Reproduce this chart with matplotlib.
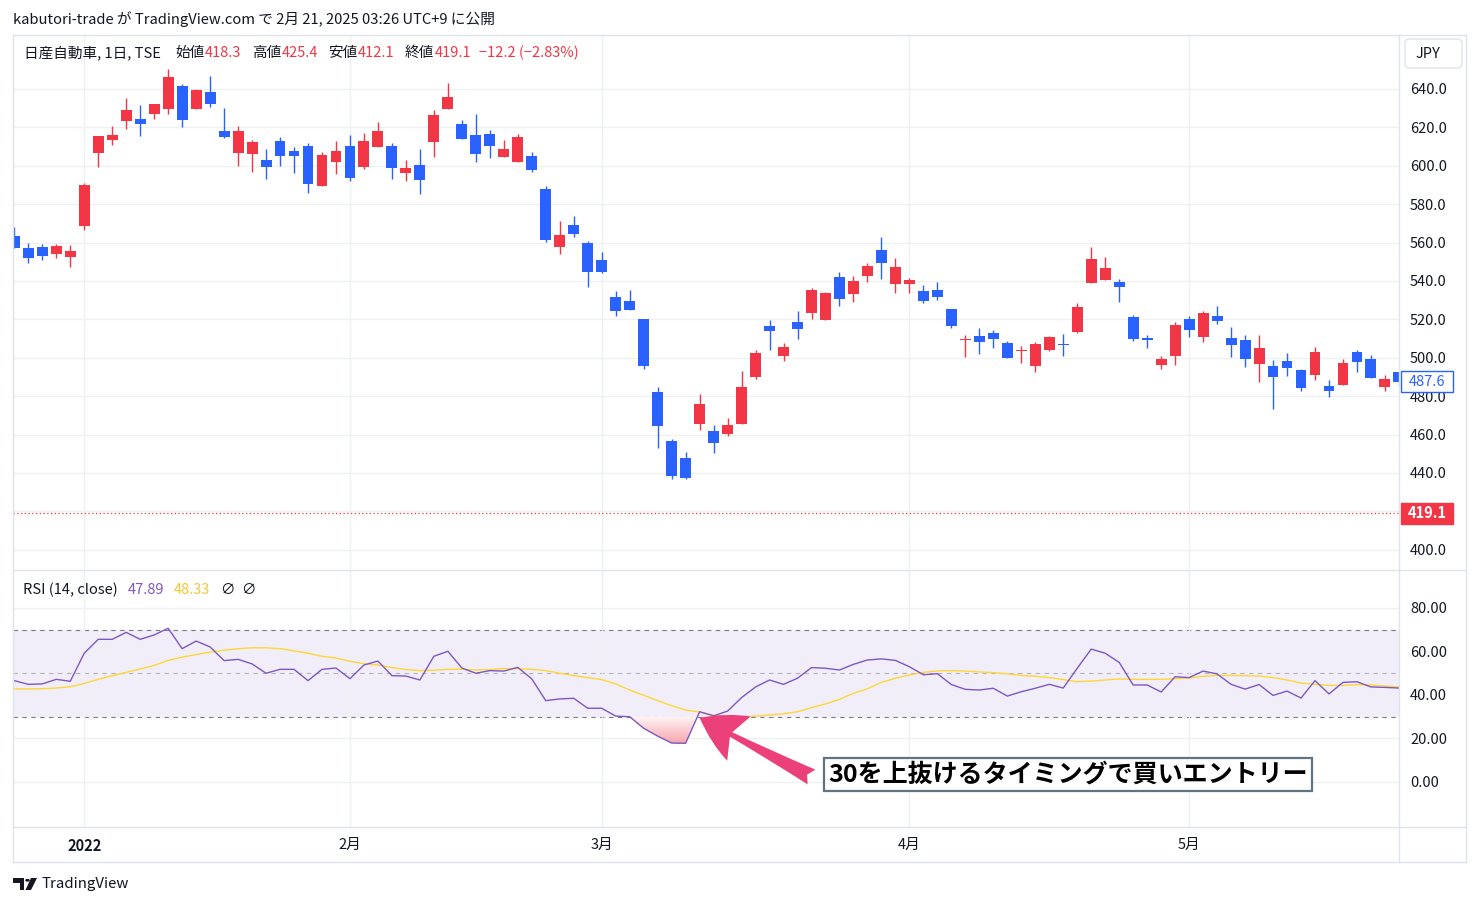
import numpy as np
import matplotlib
matplotlib.use("Agg")
import matplotlib.pyplot as plt
import matplotlib.transforms as mtransforms
from matplotlib.patches import Rectangle, FancyBboxPatch, Polygon, Circle
from matplotlib.lines import Line2D
from matplotlib.colors import LinearSegmentedColormap

plt.rcParams["font.family"] = ["Noto Sans CJK JP", "DejaVu Sans"]

W, H = 1479, 906

# daily bars, 2021-12-24 .. 2022-05-26 (index = trading day)
opens = [563.5, 557.2, 557.7, 554.2, 552.7, 568.8, 606.8, 613.6, 623.5, 624.4,
         627.1, 629.8, 641.6, 629.8, 638.4, 618.1, 606.8, 606.3, 603.0, 612.9,
         607.7, 610.3, 589.6, 602.1, 610.3, 599.5, 610.0, 610.3, 596.4, 600.4,
         612.6, 629.8, 621.8, 616.0, 616.6, 604.8, 602.1, 605.1, 587.9, 557.9,
         569.2, 559.8, 550.9, 531.8, 529.7, 520.0, 482.3, 456.8, 448.0, 465.7,
         462.0, 460.5, 465.3, 490.2, 516.7, 501.1, 518.8, 523.1, 519.8, 542.1,
         533.0, 542.6, 556.1, 538.2, 538.2, 534.9, 535.5, 525.6, 509.0, 511.5,
         513.1, 507.9, 503.5, 495.7, 503.9, 507.1, 513.4, 538.9, 540.5, 539.3,
         521.1, 510.3, 496.2, 500.9, 520.0, 510.8, 521.6, 510.1, 509.1, 496.8,
         495.6, 498.2, 493.5, 491.0, 485.1, 485.8, 502.8, 499.2, 484.8, 492.4]
highs = [568.1, 559.8, 559.3, 559.3, 558.8, 590.9, 615.5, 620.7, 635.3, 631.7,
         632.2, 650.4, 642.6, 640.0, 646.8, 629.9, 620.7, 613.4, 608.7, 615.0,
         609.8, 611.9, 607.2, 612.9, 616.0, 617.1, 622.8, 611.9, 603.0, 608.7,
         629.1, 643.1, 623.9, 627.0, 618.6, 613.4, 616.6, 607.2, 589.5, 571.2,
         573.9, 560.8, 555.1, 534.6, 535.5, 520.4, 484.6, 457.9, 451.1, 481.3,
         465.2, 468.8, 493.3, 504.2, 519.8, 507.9, 524.5, 536.5, 534.5, 544.7,
         542.6, 549.4, 563.0, 552.0, 541.5, 538.1, 539.6, 525.6, 512.0, 515.7,
         514.6, 508.9, 506.0, 508.0, 511.5, 512.2, 528.4, 557.5, 552.3, 540.9,
         522.1, 511.7, 500.9, 518.5, 521.6, 524.4, 526.8, 515.9, 511.7, 511.7,
         498.7, 502.3, 494.0, 505.4, 488.3, 499.2, 503.9, 501.3, 490.9, 492.5]
lows = [557.4, 549.6, 551.1, 552.2, 547.5, 566.7, 599.5, 610.8, 619.2, 615.5,
        624.4, 627.1, 620.4, 629.8, 630.8, 614.6, 600.1, 596.9, 593.3, 600.1,
        596.4, 586.0, 589.6, 595.9, 592.3, 598.5, 610.0, 593.3, 592.3, 585.5,
        604.8, 629.8, 614.1, 602.1, 604.2, 604.8, 602.1, 596.9, 560.5, 554.2,
        563.1, 537.0, 544.3, 521.9, 525.1, 494.3, 453.2, 437.0, 437.0, 462.5,
        450.6, 459.4, 465.3, 489.1, 504.2, 498.5, 509.9, 520.4, 519.5, 526.8,
        528.9, 539.5, 540.9, 533.9, 533.9, 528.7, 530.3, 515.7, 500.6, 502.1,
        505.3, 499.9, 497.1, 492.6, 503.4, 500.8, 512.9, 538.9, 540.5, 529.1,
        508.7, 505.1, 494.2, 496.2, 510.6, 508.2, 517.6, 500.4, 495.2, 487.2,
        473.3, 490.5, 482.7, 488.4, 479.6, 485.8, 492.6, 489.5, 482.5, 486.0]
closes = [557.4, 552.2, 553.2, 558.2, 555.6, 590.0, 615.5, 616.0, 629.1, 621.9,
          632.2, 646.2, 624.0, 639.5, 632.4, 615.2, 618.1, 612.4, 599.5, 605.3,
          605.3, 590.7, 605.6, 607.7, 593.8, 612.9, 618.1, 599.0, 599.0, 592.8,
          626.5, 635.8, 614.1, 606.3, 610.5, 608.7, 615.0, 598.0, 561.5, 564.0,
          564.6, 544.9, 544.9, 524.5, 525.1, 495.9, 464.3, 438.6, 437.6, 476.1,
          455.4, 465.2, 484.9, 502.7, 513.8, 505.8, 515.2, 535.5, 533.9, 530.4,
          540.0, 547.8, 549.4, 547.3, 540.5, 529.7, 531.8, 516.7, 509.5, 508.4,
          509.9, 500.1, 503.9, 507.0, 510.7, 506.5, 526.3, 551.3, 546.6, 536.9,
          509.8, 509.4, 499.2, 516.9, 514.5, 523.2, 519.2, 506.7, 499.4, 504.9,
          490.0, 494.7, 484.3, 502.8, 482.7, 497.1, 497.8, 489.5, 488.8, 487.6]

rsi = [46.6, 44.9, 45.1, 47.2, 46.3, 59.2, 65.6, 65.6, 68.8, 65.6,
       67.6, 70.7, 61.3, 64.8, 62.1, 55.8, 56.4, 54.3, 50.0, 51.8,
       51.8, 46.6, 51.8, 52.4, 47.5, 53.8, 55.6, 48.9, 48.7, 46.9,
       57.8, 60.1, 52.4, 50.0, 51.2, 51.0, 52.7, 47.4, 37.4, 38.2,
       38.5, 33.9, 33.9, 30.3, 30.0, 24.7, 21.1, 17.9, 17.8, 32.3,
       30.4, 32.6, 38.8, 43.7, 46.9, 44.9, 47.7, 52.6, 52.3, 51.5,
       54.1, 56.1, 56.6, 55.9, 53.0, 49.3, 49.8, 44.8, 42.6, 42.3,
       43.1, 39.5, 41.5, 43.1, 44.9, 43.2, 52.3, 61.1, 59.2, 55.0,
       44.6, 44.6, 41.4, 48.4, 48.0, 51.0, 49.7, 44.9, 42.7, 44.8,
       39.8, 41.8, 38.6, 46.6, 40.5, 45.8, 46.1, 43.7, 43.5, 43.2]
rsi_ma = [42.8, 42.8, 42.9, 43.2, 43.8, 45.3, 47.2, 48.9, 50.4, 52.0,
          53.6, 55.9, 57.4, 58.6, 59.7, 60.6, 61.3, 61.7, 61.7, 61.3,
          60.3, 59.2, 57.8, 57.0, 55.5, 54.4, 53.8, 52.6, 51.7, 51.2,
          51.4, 51.8, 51.8, 51.5, 51.7, 52.2, 52.1, 51.8, 51.2, 50.0,
          48.9, 48.0, 47.1, 45.1, 42.3, 39.9, 37.4, 35.1, 33.1, 32.2,
          30.7, 29.9, 29.9, 30.3, 30.8, 31.4, 32.3, 34.2, 35.9, 38.0,
          40.8, 42.9, 45.8, 47.7, 49.2, 50.4, 51.1, 51.2, 51.0, 50.6,
          50.3, 49.7, 49.0, 48.6, 48.0, 47.1, 46.1, 46.4, 46.9, 47.4,
          47.2, 47.2, 47.2, 47.5, 47.8, 48.6, 49.0, 49.0, 48.9, 48.7,
          48.0, 46.9, 45.5, 44.9, 44.4, 44.4, 44.8, 44.6, 44.1, 43.7]

month_pos = [5, 24, 42, 64, 84]
month_labels = ["2022", "2月", "3月", "4月", "5月"]
price_ticks = list(range(400, 641, 20))
rsi_ticks = [0, 20, 40, 60, 80]
last_close = 419.1
last_bar = 487.6

UP = "#F23645"
DOWN = "#2962FF"
TXT = "#131722"
GRID = "#EEF0F4"
FRAME = "#E0E3EB"
PURPLE = "#7E57C2"
YELLOW = "#FDD835"


def fx(px):
    return px / W


def fy(py):
    return 1 - py / H


fig = plt.figure(figsize=(W / 100, H / 100), dpi=100)
fig.patch.set_facecolor("white")

ax = fig.add_axes([fx(13), fy(569), fx(1398.5) - fx(13), fy(35) - fy(569)])
ax2 = fig.add_axes([fx(13), fy(827), fx(1398.5) - fx(13), fy(570) - fy(827)])

x = np.arange(len(closes))
o = np.array(opens)
c = np.array(closes)
colors = [UP if cc >= oo else DOWN for oo, cc in zip(o, c)]

# ---- price pane
heights = np.maximum(np.abs(c - o), 0.6)
ax.bar(x, heights, bottom=np.minimum(o, c), width=0.78, color=colors, linewidth=0, zorder=3)
ax.vlines(x, lows, highs, colors=colors, linewidth=1.0, zorder=2)
ax.axhline(last_close, color=UP, linestyle=(0, (1, 2)), linewidth=0.9, zorder=2)

ax.set_xlim(-0.093, 98.97)
ax.set_ylim(390.0, 668.1)
ax.set_yticks(price_ticks)
ax.set_yticklabels([f"{v:.1f}" for v in price_ticks])
ax.yaxis.tick_right()
ax.tick_params(axis="y", length=0, pad=8.3, labelsize=10.5, labelcolor=TXT)
ax.set_xticks(month_pos)
ax.tick_params(axis="x", length=0, labelbottom=False)
ax.grid(True, color=GRID, linewidth=1.0)
ax.set_axisbelow(True)
for s in ax.spines.values():
    s.set_visible(False)

# ---- RSI pane
ax2.axhspan(30, 70, color="#F2EEF9", linewidth=0, zorder=0)
ax2.axhline(70, color="#787B86", linestyle=(0, (4, 4)), linewidth=0.8, zorder=1)
ax2.axhline(30, color="#787B86", linestyle=(0, (4, 4)), linewidth=0.8, zorder=1)
ax2.axhline(50, color="#787B86", alpha=0.5, linestyle=(0, (4, 4)), linewidth=0.8, zorder=1)

r = np.array(rsi)
fb = ax2.fill_between(x, r, 30, where=r < 30, interpolate=True, facecolor="none", edgecolor="none")
cmap = LinearSegmentedColormap.from_list("os", ["#F7A3AB", "#FFF6F7"])
grad = np.linspace(0, 1, 256).reshape(-1, 1)
im = ax2.imshow(grad, extent=[40, 52, r.min() - 0.5, 30], origin="lower", cmap=cmap,
                aspect="auto", zorder=2)
im.set_clip_path(fb.get_paths()[0], transform=ax2.transData)

ax2.plot(x, rsi_ma, color=YELLOW, linewidth=1.0, zorder=3)
ax2.plot(x, rsi, color=PURPLE, linewidth=1.0, zorder=4)

ax2.set_xlim(-0.093, 98.97)
ax2.set_ylim(-20.69, 97.47)
ax2.set_yticks(rsi_ticks)
ax2.set_yticklabels([f"{v:.2f}" for v in rsi_ticks])
ax2.yaxis.tick_right()
ax2.tick_params(axis="y", length=0, pad=8.3, labelsize=10.5, labelcolor=TXT)
ax2.set_xticks(month_pos)
ax2.set_xticklabels(month_labels)
ax2.tick_params(axis="x", length=0, pad=8, labelsize=10.5, labelcolor=TXT)
ax2.get_xticklabels()[0].set_fontweight("bold")
ax2.grid(True, color=GRID, linewidth=1.0)
ax2.set_axisbelow("line")
for s in ax2.spines.values():
    s.set_visible(False)

# annotation
ax2.annotate("", xy=(49, 29.5), xytext=(57.0, 2.3),
             arrowprops=dict(arrowstyle="fancy,head_length=0.8,head_width=0.9,tail_width=0.3",
                             color="#EC407A", linewidth=0, mutation_scale=40,
                             shrinkA=0, shrinkB=0), zorder=9)
ax2.text(75.34, 3.45, "30を上抜けるタイミングで買いエントリー", fontsize=18, fontweight="bold",
         color="black", ha="center", va="center", zorder=10,
         bbox=dict(boxstyle="square,pad=0.18", fc="white", ec="#5F7382", lw=1.6))

# ---- frame / chrome
for (x0, y0, x1, y1) in [(13, 35, 1466, 35), (13, 862, 1466, 862), (13, 35, 13, 862),
                         (1466, 35, 1466, 862), (13, 569.5, 1466, 569.5),
                         (13, 827, 1466, 827), (1399, 35, 1399, 862)]:
    fig.add_artist(Line2D([fx(x0), fx(x1)], [fy(y0), fy(y1)], color=FRAME, linewidth=1.0))


def price_label(value, fc, ec, tc, weight="normal"):
    tr = mtransforms.blended_transform_factory(fig.transFigure, ax.transData)
    h = 21 / 1.9208
    ax.add_patch(Rectangle((fx(1401), value - h / 2), fx(52), h, transform=tr,
                           facecolor=fc, edgecolor=ec, linewidth=1.0, clip_on=False, zorder=20))
    ax.text(fx(1427), value, f"{value:.1f}", transform=tr, ha="center", va="center",
            fontsize=10.5, color=tc, fontweight=weight, clip_on=False, zorder=21)


price_label(last_bar, "white", DOWN, DOWN)
price_label(last_close, UP, UP, "white", "bold")

fig.add_artist(FancyBboxPatch((fx(1405), fy(68)), fx(1462 - 1405), (68 - 39) / H,
                              boxstyle="round,pad=0,rounding_size=0.004",
                              transform=fig.transFigure, facecolor="white", edgecolor=FRAME))
fig.text(fx(1428), fy(54), "JPY", ha="center", va="center", fontsize=10.5, color=TXT)

# header and legends
fig.text(fx(13), fy(19), "kabutori-trade が TradingView.com で 2月 21, 2025 03:26 UTC+9 に公開",
         fontsize=10.6, color=TXT, va="center")

legend = [(23.8, "日産自動車, 1日, TSE", TXT), (175, "始値", TXT), (205, "418.3", UP),
          (252, "高値", TXT), (282, "425.4", UP), (328, "安値", TXT), (358, "412.1", UP),
          (404.6, "終値", TXT), (434.6, "419.1", UP), (478.8, "−12.2 (−2.83%)", UP)]
for px, s, col in legend:
    fig.text(fx(px), fy(53), s, fontsize=10.5, color=col, va="center")

rsi_legend = [(23.3, "RSI (14, close)", TXT), (127.7, "47.89", PURPLE), (173.3, "48.33", "#F7C72F"),
              (220.5, "∅", TXT), (241.5, "∅", TXT)]
for px, s, col in rsi_legend:
    fig.text(fx(px), fy(590), s, fontsize=10.5, color=col, va="center")

# footer logo
fig.add_artist(Polygon([(fx(13), fy(878)), (fx(24), fy(878)), (fx(24), fy(890)), (fx(19.5), fy(890)),
                        (fx(19.5), fy(882.5)), (fx(13), fy(882.5))], closed=True,
                       transform=fig.transFigure, facecolor=TXT, edgecolor="none"))
fig.add_artist(Circle((fx(27.5), fy(880.3)), 2.3 / W, transform=fig.transFigure,
                      facecolor=TXT, edgecolor="none"))
fig.add_artist(Polygon([(fx(31), fy(878)), (fx(37), fy(878)), (fx(31), fy(890)), (fx(25.5), fy(890))],
                       closed=True, transform=fig.transFigure, facecolor=TXT, edgecolor="none"))
fig.text(fx(41), fy(884), "TradingView", fontsize=10.8, color=TXT, va="center")

fig.savefig("out.png", dpi=100, facecolor="white")
